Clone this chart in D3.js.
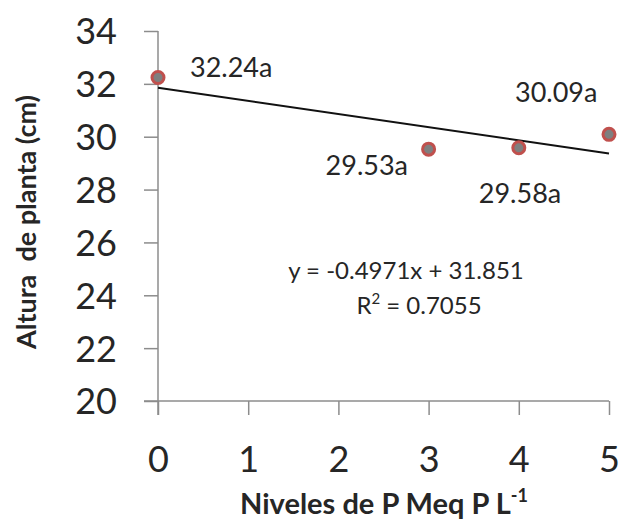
<!DOCTYPE html>
<html><head><meta charset="utf-8">
<script src="https://cdn.jsdelivr.net/npm/d3@7"></script>
<style>body{margin:0;background:#fff}text{font-family:Lato,"Open Sans",sans-serif}</style>
</head><body>
<svg id="c" width="621" height="522"></svg>
<script>
const xValues = [0, 3, 4, 5];
const yValues = [32.24, 29.53, 29.58, 30.09];
const pointLabels = ["32.24a", "29.53a", "29.58a", "30.09a"];
const xTicks = [0, 1, 2, 3, 4, 5];
const yTicks = [20, 22, 24, 26, 28, 30, 32, 34];
const slope = -0.4971, intercept = 31.851;
const eqText = "y = -0.4971x + 31.851";
const r2Value = "0.7055";
const labelOffsets = [[32, -1], [-103, 26], [-40, 55], [-94, -32]];

const svg = d3.select("#c");
const x = d3.scaleLinear().domain([0, 5]).range([158, 609]);
const y = d3.scaleLinear().domain([20, 34]).range([401, 31]);
const axisColor = "#8c8c8c";
const textColor = "#262626";

// y axis
const ya = svg.append("g").attr("transform", "translate(158,0)")
  .call(d3.axisLeft(y).tickValues(yTicks).tickSize(14).tickPadding(27));
ya.select(".domain").attr("stroke", axisColor).attr("stroke-width", 1.5).attr("d", "M0,31V415");
ya.selectAll(".tick line").attr("stroke", axisColor).attr("stroke-width", 1.5);
ya.selectAll(".tick text").attr("font-size", 36).attr("fill", textColor).attr("dy", "0.36em")
  .attr("font-family", "Lato,'Open Sans',sans-serif");

// x axis
const xa = svg.append("g").attr("transform", "translate(0,401)")
  .call(d3.axisBottom(x).tickValues(xTicks).tickFormat(d3.format("d")).tickSize(14).tickPadding(31));
xa.select(".domain").attr("stroke", axisColor).attr("stroke-width", 1.5).attr("d", "M144,0H609");
xa.selectAll(".tick line").attr("stroke", axisColor).attr("stroke-width", 1.5);
xa.selectAll(".tick text").attr("font-size", 36).attr("fill", textColor)
  .attr("font-family", "Lato,'Open Sans',sans-serif");

// trendline
svg.append("line")
  .attr("x1", x(0)).attr("y1", y(intercept))
  .attr("x2", x(5)).attr("y2", y(intercept + slope * 5))
  .attr("stroke", "#111").attr("stroke-width", 2);

// points
svg.selectAll("circle.pt").data(xValues).join("circle")
  .attr("cx", d => x(d)).attr("cy", (d, i) => y(yValues[i]))
  .attr("r", 6).attr("fill", "#7f7f7f").attr("stroke", "#c0504d").attr("stroke-width", 3);

// point labels
svg.selectAll("text.lbl").data(xValues).join("text")
  .attr("x", (d, i) => x(d) + labelOffsets[i][0])
  .attr("y", (d, i) => y(yValues[i]) + labelOffsets[i][1])
  .attr("font-size", 27).attr("fill", textColor).text((d, i) => pointLabels[i]);

// equation
svg.append("text").attr("x", 406).attr("y", 279).attr("text-anchor", "middle")
  .attr("font-size", 24).attr("fill", textColor).text(eqText);
const r2 = svg.append("text").attr("x", 419).attr("y", 314).attr("text-anchor", "middle")
  .attr("font-size", 24).attr("fill", textColor);
r2.append("tspan").text("R");
r2.append("tspan").attr("font-size", 15).attr("dy", -10).text("2");
r2.append("tspan").attr("dy", 10).text(" = " + r2Value);

// axis titles
svg.append("text").attr("transform", "translate(36,222) rotate(-90)").attr("text-anchor", "middle")
  .style("white-space", "pre")
  .attr("font-size", 27).attr("font-weight", "bold").attr("fill", textColor).text("Altura  de planta (cm)");
const xt = svg.append("text").attr("x", 384).attr("y", 514).attr("text-anchor", "middle")
  .attr("font-size", 29).attr("font-weight", "bold").attr("fill", textColor);
xt.append("tspan").text("Niveles de P Meq P L");
xt.append("tspan").attr("font-size", 18).attr("dy", -12).text("-1");
</script>
</body></html>
